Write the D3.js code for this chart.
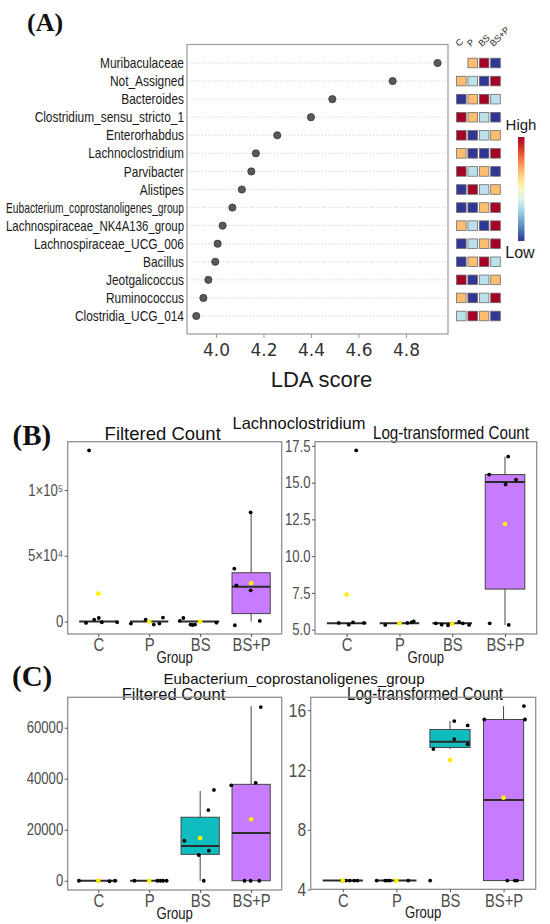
<!DOCTYPE html>
<html>
<head>
<meta charset="utf-8">
<script src="https://cdn.jsdelivr.net/npm/d3@7"></script>
<style>body{margin:0;background:#fff}</style>
</head>
<body>
<svg width="550" height="924"></svg>
<script>
// ---------- panel A : LDA scores ----------
var taxa = ['Muribaculaceae', 'Not_Assigned', 'Bacteroides', 'Clostridium_sensu_stricto_1',
    'Enterorhabdus', 'Lachnoclostridium', 'Parvibacter', 'Alistipes',
    'Eubacterium_coprostanoligenes_group', 'Lachnospiraceae_NK4A136_group',
    'Lachnospiraceae_UCG_006', 'Bacillus', 'Jeotgalicoccus', 'Ruminococcus', 'Clostridia_UCG_014'];
var ldaScores = [4.933, 4.744, 4.49, 4.40, 4.258, 4.168, 4.149, 4.109, 4.069, 4.028, 4.007, 3.997, 3.968, 3.947, 3.917];
var ldaTicks = [4.0, 4.2, 4.4, 4.6, 4.8];
var groups = ['C', 'P', 'BS', 'BS+P'];
// abundance rank of each taxon per group (1 = low ... 4 = high), order C, P, BS, BS+P
var heatRanks = [
    [null, 3, 4, 1], [3, 2, 1, 4], [1, 3, 4, 2], [4, 3, 2, 1], [4, 1, 2, 3],
    [3, 1, 1, 4], [4, 2, 3, 1], [1, 4, 2, 3], [1, 1, 3, 4], [3, 2, 1, 4],
    [1, 2, 3, 4], [1, 3, 4, 2], [4, 1, 2, 3], [3, 1, 2, 4], [2, 4, 3, 1]
];

// ---------- panels B / C : box plots ----------
var boxFill = ['#F8766D', '#7CAE00', '#0FBCBF', '#C77CFF'];
// box stats per group: [lower whisker, q1, median, q3, upper whisker]
// points: [group index, horizontal jitter (share of group step), value]
var lachFiltBox = [[0, 0, 0, 0, 0], [0, 0, 0, 0, 0], [0, 0, 0, 0, 0], [0, 6060, 26500, 37100, 83000]];
var lachFiltMean = [21200, 0, 0, 29200];
var lachFiltPts = [
    [0, -0.24, -1000], [0, -0.08, 1500], [0, 0.01, 2700], [0, 0.07, -500], [0, 0.37, -500], [0, -0.18, 130000],
    [1, -0.36, -1500], [1, -0.07, 1500], [1, 0.09, -2300], [1, 0.2, -1500], [1, 0.27, 3000],
    [2, -0.4, 500], [2, -0.33, 2700], [2, -0.19, -2300], [2, -0.15, -2600], [2, -0.1, -2300], [2, 0.32, -800],
    [3, -0.33, 40200], [3, -0.29, 27500], [3, -0.01, 23700], [3, -0.01, 83000], [3, -0.32, -2800], [3, 0.17, 500]
];
var lachFiltTicks = [0, 50000, 100000];
var lachFiltTickLabels = ['0', '5×10⁴', '1×10⁵'];

var lachLogBox = [[5.43, 5.43, 5.43, 5.43, 5.43], [5.43, 5.43, 5.43, 5.43, 5.43], [5.43, 5.43, 5.43, 5.43, 5.43], [5.32, 7.76, 15.05, 15.55, 16.77]];
var lachLogMean = [7.39, 5.43, 5.40, 12.19];
var lachLogPts = [
    [0, -0.15, 5.46], [0, 0.04, 5.34], [0, 0.12, 5.5], [0, 0.33, 5.46], [0, 0.18, 17.19],
    [1, -0.27, 5.32], [1, 0.15, 5.46], [1, 0.23, 5.5], [1, 0.27, 5.57],
    [2, -0.31, 5.43], [2, -0.2, 5.34], [2, -0.08, 5.3], [2, 0.13, 5.53], [2, 0.2, 5.43], [2, 0.32, 5.32],
    [3, -0.29, 5.43], [3, 0.07, 5.32], [3, -0.3, 15.55], [3, 0.06, 16.77], [3, 0.01, 14.88], [3, 0.21, 15.21]
];
var lachLogTicks = [5, 7.5, 10, 12.5, 15, 17.5];
var lachLogTickLabels = ['5.0', '7.5', '10.0', '12.5', '15.0', '17.5'];

var eubFiltBox = [[0, 0, 0, 0, 0], [0, 0, 0, 0, 0], [0, 10350, 13600, 24900, 35200], [0, 0, 18700, 37800, 68500]];
var eubFiltMean = [0, 0, 16700, 24100];
var eubFiltPts = [
    [0, -0.38, 0], [0, 0.0, 0], [0, 0.22, -200], [0, 0.33, 0],
    [1, -0.29, 0], [1, 0.16, 0], [1, 0.22, 0], [1, 0.27, 0], [1, 0.34, 0],
    [2, -0.31, 15700], [2, -0.03, 10100], [2, 0.17, 11800], [2, 0.16, 27700], [2, 0.27, 35600], [2, 0.07, 0],
    [3, -0.39, 37400], [3, 0.09, 38400], [3, 0.19, 68100], [3, -0.13, 0], [3, -0.01, 0], [3, 0.16, 0]
];
var eubFiltTicks = [0, 20000, 40000, 60000];
var eubFiltTickLabels = ['0', '20000', '40000', '60000'];

var eubLogBox = [[4.6, 4.6, 4.6, 4.6, 4.6], [4.6, 4.6, 4.6, 4.6, 4.6], [13.4, 13.51, 13.89, 14.71, 15.27], [4.6, 4.6, 10.0, 15.38, 16.27]];
var eubLogMean = [4.6, 4.6, 12.67, 10.15];
var eubLogPts = [
    [0, -0.01, 4.6], [0, 0.06, 4.6], [0, 0.13, 4.6], [0, 0.21, 4.6], [0, 0.27, 4.6],
    [1, -0.37, 4.6], [1, -0.21, 4.6], [1, -0.17, 4.6], [1, -0.12, 4.6], [1, 0.22, 4.6],
    [2, -0.31, 13.4], [2, 0.08, 15.27], [2, 0.08, 14.07], [2, 0.33, 14.98], [2, 0.33, 13.73], [2, -0.37, 4.6],
    [3, -0.36, 15.38], [3, 0.38, 16.28], [3, 0.4, 15.38], [3, 0.07, 4.6], [3, 0.21, 4.6], [3, 0.25, 4.6]
];
var eubLogTicks = [4, 8, 12, 16];
var eubLogTickLabels = ['4', '8', '12', '16'];

// ---------- drawing ----------
var SANS = "'Liberation Sans',Arial,sans-serif";
var SERIF = "'Liberation Serif','Times New Roman',serif";
var NARROW_K = 0.82;   // Arial Narrow is roughly Arial squeezed to 82 %

var svg = d3.select('svg');
svg.append('rect').attr('width', 550).attr('height', 924).attr('fill', '#fff');

// squeeze text horizontally (no narrow font installed)
function condense(sel, k, maxW) {
    sel.each(function() {
        var w = this.getComputedTextLength() * k;
        if (maxW && w > maxW) w = maxW;
        d3.select(this).attr('textLength', w).attr('lengthAdjust', 'spacingAndGlyphs');
    });
    return sel;
}

function addText(x, y, str, size, opts) {
    opts = opts || {};
    var t = svg.append('text')
        .attr('x', x).attr('y', y)
        .attr('text-anchor', opts.anchor || 'middle')
        .style('font-family', opts.font || SANS)
        .style('font-size', size + 'px')
        .style('font-weight', opts.weight || 'normal')
        .attr('fill', opts.fill || '#111')
        .text(str);
    if (opts.narrow) condense(t, NARROW_K);
    return t;
}

// panel letters
addText(27, 31, '(A)', 26, {anchor: 'start', weight: 'bold', font: SERIF});
addText(12.5, 445, '(B)', 29, {anchor: 'start', weight: 'bold', font: SERIF});
addText(12, 686, '(C)', 29, {anchor: 'start', weight: 'bold', font: SERIF});

// ---- panel A ----
var plotA = {x0: 187, x1: 448, y0: 44.5, y1: 334};
var xA = d3.scaleLinear().domain([3.878, 4.977]).range([plotA.x0, plotA.x1]);
var yA = d3.scalePoint().domain(taxa).range([63, 316]);

var gA = svg.append('g');
gA.selectAll('.grid')
    .data(taxa)
    .enter()
    .append('line')
    .attr('x1', plotA.x0).attr('x2', plotA.x1)
    .attr('y1', d => yA(d)).attr('y2', d => yA(d))
    .attr('stroke', '#c8c8c8')
    .attr('stroke-dasharray', '1.2,1.8')
    .attr('stroke-width', 0.8);

gA.append('rect')
    .attr('x', plotA.x0).attr('y', plotA.y0)
    .attr('width', plotA.x1 - plotA.x0).attr('height', plotA.y1 - plotA.y0)
    .attr('fill', 'none').attr('stroke', '#9a9a9a').attr('stroke-width', 1.2);

gA.selectAll('.dot')
    .data(taxa)
    .enter()
    .append('circle')
    .attr('cx', (d, i) => xA(ldaScores[i]))
    .attr('cy', d => yA(d))
    .attr('r', 3.6)
    .attr('fill', '#595959')
    .attr('stroke', '#333')
    .attr('stroke-width', 0.8);

var axA = gA.append('g')
    .attr('transform', 'translate(0,' + plotA.y1 + ')')
    .call(d3.axisBottom(xA).tickValues(ldaTicks).tickSize(4).tickPadding(6).tickFormat(d3.format('.1f')));
axA.select('.domain').remove();
axA.selectAll('line').attr('stroke', '#9a9a9a');
axA.selectAll('text')
    .style('font-family', "'DejaVu Sans',sans-serif")
    .style('font-size', '17px')
    .attr('fill', '#333');

addText((plotA.x0 + plotA.x1) / 2 + 4, 387, 'LDA score', 22, {fill: '#1a1a1a'});

// taxon labels
var taxonText = gA.selectAll('.taxon')
    .data(taxa)
    .enter()
    .append('text')
    .attr('x', plotA.x0 - 3)
    .attr('y', d => yA(d))
    .attr('dy', '0.35em')
    .attr('text-anchor', 'end')
    .style('font-family', SANS)
    .style('font-size', '14.5px')
    .attr('fill', '#1a1a1a')
    .text(d => d);
condense(taxonText, NARROW_K, 178);

// heatmap of group ranks
var heatX = d3.scalePoint().domain(groups).range([461.3, 495.5]);
var heatColor = d3.scaleSequential(t => d3.interpolateRdYlBu(1 - t)).domain([1, 4]);
var cell = 9.6;
var cells = [];
heatRanks.forEach(function(r, i) {
    r.forEach(function(v, j) {
        if (v !== null) cells.push({taxon: taxa[i], group: groups[j], rank: v});
    });
});
gA.selectAll('.cell')
    .data(cells)
    .enter()
    .append('rect')
    .attr('x', d => heatX(d.group) - cell / 2)
    .attr('y', d => yA(d.taxon) - cell / 2)
    .attr('width', cell).attr('height', cell)
    .attr('fill', d => heatColor(d.rank))
    .attr('stroke', '#6e6e6e')
    .attr('stroke-width', 0.8);

gA.selectAll('.colLabel')
    .data(groups)
    .enter()
    .append('text')
    .attr('transform', d => 'translate(' + [heatX(d) - 2, 47] + ') rotate(-45)')
    .style('font-family', SANS)
    .style('font-size', '9px')
    .attr('fill', '#222')
    .text(d => d);

// colour key
var grad = svg.append('defs').append('linearGradient')
    .attr('id', 'rdylbu').attr('x1', 0).attr('y1', 0).attr('x2', 0).attr('y2', 1);
d3.range(0, 1.01, 0.1).forEach(function(t) {
    grad.append('stop').attr('offset', t).attr('stop-color', d3.interpolateRdYlBu(t));
});
gA.append('rect')
    .attr('x', 518).attr('y', 137)
    .attr('width', 6.5).attr('height', 104)
    .attr('fill', 'url(#rdylbu)');
addText(521, 130, 'High', 15, {fill: '#1a1a1a'});
addText(520, 258, 'Low', 16, {fill: '#1a1a1a'});

// ---- panels B and C ----
addText(299, 429.3, 'Lachnoclostridium', 16.5);
addText(294, 684, 'Eubacterium_coprostanoligenes_group', 15);

var panels = [
    {x0: 67.7, x1: 281.7, y0: 441.7, y1: 634, title: 'Filtered Count', tx: 162.7, ty: 440, tsize: 18.5, tnarrow: false,
        box: lachFiltBox, mean: lachFiltMean, pts: lachFiltPts, ticks: lachFiltTicks, tickLabels: lachFiltTickLabels, ysize: 16},
    {x0: 315, x1: 536.7, y0: 441.7, y1: 634, title: 'Log-transformed Count', tx: 451, ty: 439.3, tsize: 18.5, tnarrow: true,
        box: lachLogBox, mean: lachLogMean, pts: lachLogPts, ticks: lachLogTicks, tickLabels: lachLogTickLabels, ysize: 16},
    {x0: 67.7, x1: 281.7, y0: 697.3, y1: 890, title: 'Filtered Count', tx: 173.5, ty: 700, tsize: 16.5, tnarrow: false,
        box: eubFiltBox, mean: eubFiltMean, pts: eubFiltPts, ticks: eubFiltTicks, tickLabels: eubFiltTickLabels, ysize: 16},
    {x0: 310.7, x1: 535.7, y0: 697.3, y1: 889.3, title: 'Log-transformed Count', tx: 425, ty: 700, tsize: 18.5, tnarrow: true,
        box: eubLogBox, mean: eubLogMean, pts: eubLogPts, ticks: eubLogTicks, tickLabels: eubLogTickLabels, ysize: 19}
];

function drawBoxPanel(p) {
    var x = d3.scalePoint().domain(groups).range([p.x0, p.x1]).padding(0.6);
    var step = x.step();
    var vals = p.pts.map(d => d[2]).concat(p.mean, d3.merge(p.box));
    var lo = d3.min(vals), hi = d3.max(vals), pad = (hi - lo) * 0.05;
    var y = d3.scaleLinear().domain([lo - pad, hi + pad]).range([p.y1, p.y0]);

    addText(p.tx, p.ty, p.title, p.tsize, {narrow: p.tnarrow});

    var g = svg.append('g');
    g.append('rect')
        .attr('x', p.x0).attr('y', p.y0)
        .attr('width', p.x1 - p.x0).attr('height', p.y1 - p.y0)
        .attr('fill', 'none').attr('stroke', '#8f8f8f').attr('stroke-width', 1.3);

    // y axis
    var ay = g.append('g')
        .attr('transform', 'translate(' + p.x0 + ',0)')
        .call(d3.axisLeft(y).tickValues(p.ticks).tickSize(3).tickPadding(1.5)
            .tickFormat((d, i) => p.tickLabels[i]));
    ay.select('.domain').remove();
    ay.selectAll('line').attr('stroke', '#555');
    var yt = ay.selectAll('text')
        .style('font-family', SANS)
        .style('font-size', p.ysize + 'px')
        .attr('fill', '#4d4d4d');
    condense(yt, NARROW_K);

    // x axis
    var ax = g.append('g')
        .attr('transform', 'translate(0,' + p.y1 + ')')
        .call(d3.axisBottom(x).tickSize(3).tickPadding(1.5));
    ax.select('.domain').remove();
    ax.selectAll('line').attr('stroke', '#555');
    var xt = ax.selectAll('text')
        .style('font-family', SANS)
        .style('font-size', '18px')
        .attr('fill', '#4d4d4d');
    condense(xt, NARROW_K);
    addText((p.x0 + p.x1) / 2, p.y1 + 28.5, 'Group', 16, {fill: '#1a1a1a', narrow: true});

    // boxes
    var bw = step * 0.75;
    var boxes = g.selectAll('.box')
        .data(groups)
        .enter()
        .append('g');
    boxes.append('line')
        .attr('x1', d => x(d)).attr('x2', d => x(d))
        .attr('y1', (d, i) => y(p.box[i][0])).attr('y2', (d, i) => y(p.box[i][4]))
        .attr('stroke', '#444').attr('stroke-width', 1);
    boxes.append('rect')
        .attr('x', d => x(d) - bw / 2)
        .attr('y', (d, i) => y(p.box[i][3]))
        .attr('width', bw)
        .attr('height', (d, i) => y(p.box[i][1]) - y(p.box[i][3]))
        .attr('fill', (d, i) => boxFill[i])
        .attr('stroke', '#444').attr('stroke-width', 1);
    boxes.append('line')
        .attr('x1', d => x(d) - bw / 2).attr('x2', d => x(d) + bw / 2)
        .attr('y1', (d, i) => y(p.box[i][2])).attr('y2', (d, i) => y(p.box[i][2]))
        .attr('stroke', '#2b2b2b').attr('stroke-width', 2);

    // jittered points
    g.selectAll('.pt')
        .data(p.pts)
        .enter()
        .append('circle')
        .attr('cx', d => x(groups[d[0]]) + d[1] * step)
        .attr('cy', d => y(d[2]))
        .attr('r', 1.9)
        .attr('fill', '#000');

    // group means
    g.selectAll('.mean')
        .data(groups)
        .enter()
        .append('circle')
        .attr('cx', d => x(d))
        .attr('cy', (d, i) => y(p.mean[i]))
        .attr('r', 2.3)
        .attr('fill', '#FFF000');
}

panels.forEach(drawBoxPanel);
</script>
</body>
</html>
